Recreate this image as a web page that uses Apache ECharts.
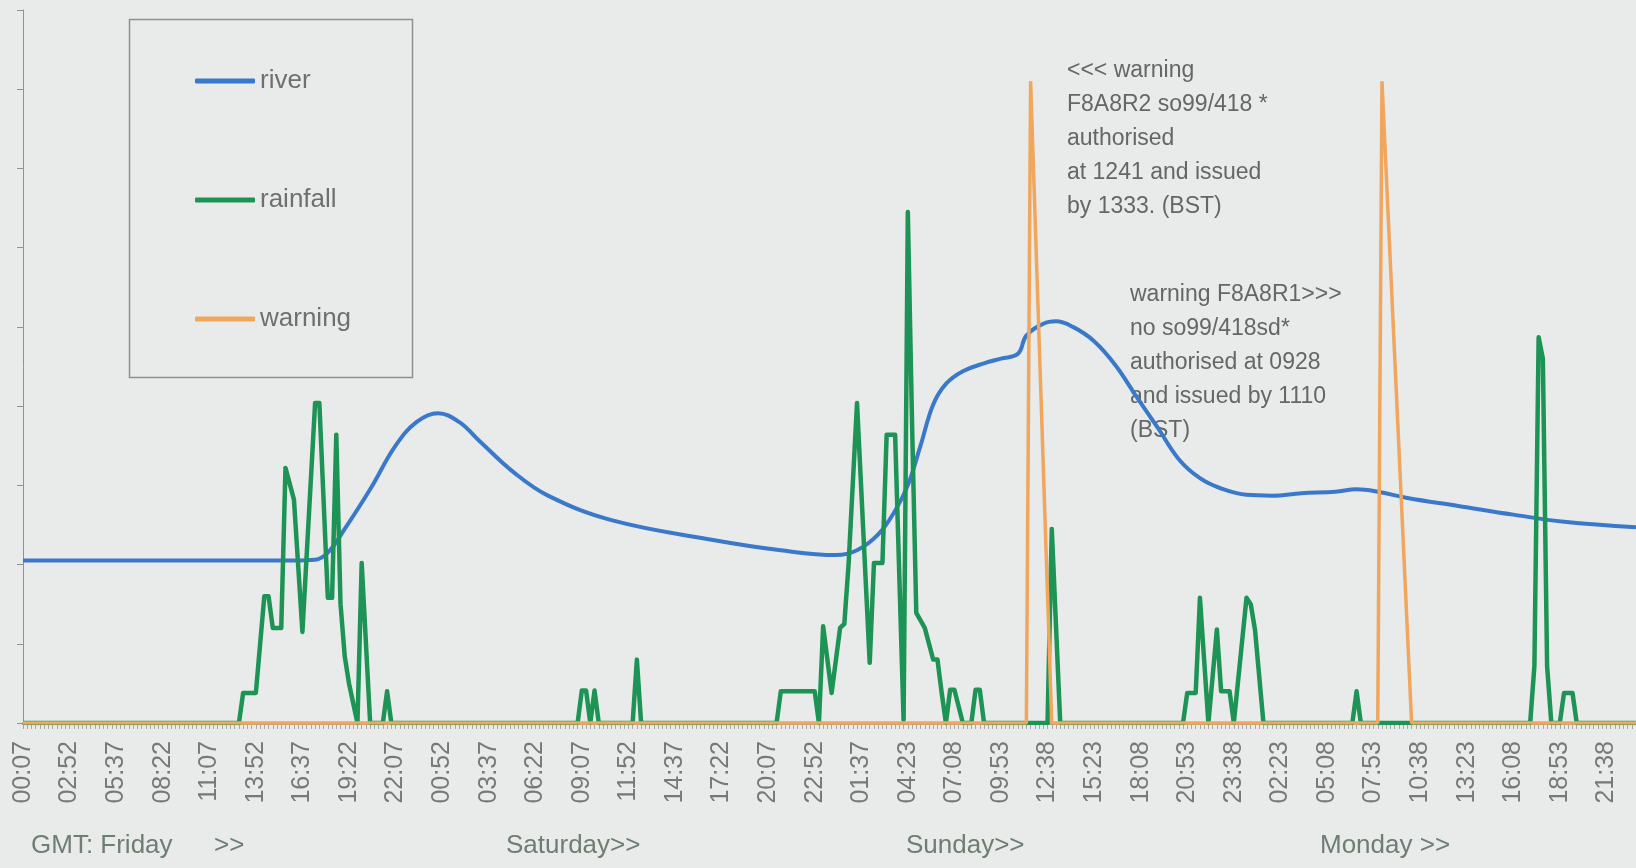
<!DOCTYPE html>
<html><head><meta charset="utf-8">
<script src="https://cdn.jsdelivr.net/npm/echarts@6/dist/echarts.min.js"></script>
<style>html,body{margin:0;padding:0;background:#e9ebea;}#chart{width:1636px;height:868px;}</style>
</head><body><div id="chart"></div>
<script>
// x-axis tick labels (one every 11 readings of 15 minutes)
const tickLabels = ["00:07","02:52","05:37","08:22","11:07","13:52","16:37","19:22","22:07","00:52","03:37","06:22","09:07","11:52","14:37","17:22","20:07","22:52","01:37","04:23","07:08","09:53","12:38","15:23","18:08","20:53","23:38","02:23","05:08","07:53","10:38","13:23","16:08","18:53","21:38"];
const slotsPerTick = 11;
const slotMinutes = 15;
const totalSlots = 382;
const seriesNames = ["river", "rainfall", "warning"];
const dayLabels = ["GMT: Friday", ">>", "Saturday>>", "Sunday>>", "Monday >>"];
const note1 = ["<<< warning", "F8A8R2 so99/418 *", "authorised", "at 1241 and issued", "by 1333. (BST)"];
const note2 = ["warning F8A8R1>>>", "no so99/418sd*", "authorised at 0928", "and issued by 1110", "(BST)"];

// [slot index, value]
const riverData = [[0,2.05],[64,2.05],[69,2.06],[72,2.15],[76,2.45],[82,2.95],[88,3.5],[93,3.8],[98,3.91],[103,3.80],[108,3.55],[116,3.16],[124,2.87],[139,2.56],[163,2.31],[179,2.18],[192,2.12],[197,2.18],[202,2.38],[206,2.68],[209,3.0],[212,3.5],[215,4.02],[218,4.28],[222,4.44],[227,4.54],[231,4.6],[235,4.66],[237,4.89],[241,5.04],[244,5.07],[248,5.0],[253,4.82],[258,4.52],[263,4.12],[268,3.73],[273,3.33],[278,3.09],[283,2.96],[289,2.88],[295,2.87],[302,2.90],[310,2.92],[315,2.95],[320,2.92],[327,2.84],[339,2.74],[352,2.63],[364,2.54],[381,2.47]];
const rainfallData = [[0,0],[51,0],[52,0.38],[55,0.38],[57,1.6],[58,1.6],[59,1.2],[61,1.2],[62,3.22],[64,2.82],[66,1.15],[69,4.04],[70,4.04],[72,1.58],[73,1.58],[74,3.64],[75,1.5],[76,0.84],[77,0.5],[78,0.25],[79,0],[80,2.02],[82,0],[85,0],[86,0.4],[87,0],[131,0],[132,0.41],[133,0.41],[134,0],[135,0.41],[136,0],[144,0],[145,0.8],[146,0],[178,0],[179,0.4],[187,0.4],[188,0],[189,1.22],[191,0.38],[193,1.2],[194,1.25],[195,2.0],[197,4.04],[200,0.76],[201,2.02],[203,2.02],[204,3.64],[206,3.64],[208,0.04],[209,6.45],[210,3.78],[211,1.39],[213,1.2],[215,0.8],[216,0.8],[217,0.38],[218,0],[219,0.42],[220,0.42],[222,0],[224,0],[225,0.42],[226,0.42],[227,0],[242,0],[243,2.45],[245,0],[274,0],[275,0.38],[277,0.38],[278,1.58],[280,0],[282,1.18],[283,0.4],[285,0.4],[286,0],[289,1.58],[290,1.5],[291,1.18],[293,0],[314,0],[315,0.4],[316,0],[356,0],[357,0.72],[358,4.87],[359,4.6],[360,0.72],[361,0],[363,0],[364,0.38],[366,0.38],[367,0],[381,0]];
const warningData = [[0,0],[237,0],[238,8.1],[243,0],[320,0],[321,8.1],[328,0],[381,0]];

// category names: reading times
const categories = [];
let day = 0, prev = -1;
for (let i = 0; i < totalSlots; i++) {
  const ti = Math.min(Math.floor(i / slotsPerTick), tickLabels.length - 1);
  const t = tickLabels[ti];
  const base = parseInt(t.slice(0,2)) * 60 + parseInt(t.slice(3,5));
  const m = (base + (i - ti * slotsPerTick) * slotMinutes) % 1440;
  if (m < prev) day++;
  prev = m;
  categories.push('d' + day + ' ' + String(Math.floor(m/60)).padStart(2,'0') + ':' + String(m%60).padStart(2,'0'));
}

const FONT = '"Liberation Sans", Arial, sans-serif';
const chart = echarts.init(document.getElementById('chart'), null, {renderer: 'canvas'});
chart.setOption({
  backgroundColor: '#e9ebea',
  animation: false,
  grid: {left: 23, right: 0, top: 10, bottom: 145, containLabel: false},
  legend: {
    orient: 'vertical', left: 190, top: 61, itemWidth: 60, itemHeight: 5, itemGap: 89,
    icon: 'roundRect', data: seriesNames,
    textStyle: {fontSize: 26, color: '#6c716f', fontFamily: FONT, lineHeight: 30}
  },
  xAxis: {
    type: 'category', data: categories, boundaryGap: false,
    axisLine: {show: true, lineStyle: {color: '#a89f86', width: 3}},
    axisTick: {show: true, interval: 0, length: 6, lineStyle: {color: '#a3a7a5', width: 1}},
    axisLabel: {
      interval: slotsPerTick - 1, rotate: 90, margin: 18, fontSize: 25, color: '#757a78', fontFamily: FONT,
      formatter: (v, idx) => tickLabels[Math.round(idx / slotsPerTick)] || ''
    },
    splitLine: {show: false}
  },
  yAxis: {
    type: 'value', min: 0, max: 9, interval: 1,
    axisLine: {show: true, lineStyle: {color: '#8e9391', width: 1}},
    axisTick: {show: true, length: 6, lineStyle: {color: '#8e9391'}},
    axisLabel: {show: false}, splitLine: {show: false}
  },
  series: [
    {name: 'river', type: 'line', data: riverData, smooth: 0.4, showSymbol: false, symbol: 'none', z: 2,
     color: '#3a79c9', lineStyle: {width: 4, color: '#3a79c9'}},
    {name: 'rainfall', type: 'line', data: rainfallData, showSymbol: false, symbol: 'none', z: 3,
     color: '#1d9455', lineStyle: {width: 4.5, color: '#1d9455', join: 'round'}},
    {name: 'warning', type: 'line', data: warningData, showSymbol: false, symbol: 'none', z: 4,
     color: '#f0a65c', lineStyle: {width: 3.5, color: '#f0a65c'}}
  ],
  graphic: [
    {type: 'rect', left: 127, top: 17, z: 0, shape: {width: 283, height: 358},
     style: {fill: 'none', stroke: '#8c9190', lineWidth: 1.5}},
    {type: 'text', left: 1067, top: 54, z: 0, style: {text: note1.join('\n'), font: '23px ' + FONT, fill: '#636766', lineHeight: 34}},
    {type: 'text', left: 1130, top: 278, z: 0, style: {text: note2.join('\n'), font: '23px ' + FONT, fill: '#636766', lineHeight: 34}},
    {type: 'text', left: 31, top: 833, z: 0, style: {text: dayLabels[0], font: '26px ' + FONT, fill: '#6d7e72'}},
    {type: 'text', left: 214, top: 833, z: 0, style: {text: dayLabels[1], font: '26px ' + FONT, fill: '#6d7e72'}},
    {type: 'text', left: 506, top: 833, z: 0, style: {text: dayLabels[2], font: '26px ' + FONT, fill: '#6d7e72'}},
    {type: 'text', left: 906, top: 833, z: 0, style: {text: dayLabels[3], font: '26px ' + FONT, fill: '#6d7e72'}},
    {type: 'text', left: 1320, top: 833, z: 0, style: {text: dayLabels[4], font: '26px ' + FONT, fill: '#6d7e72'}}
  ]
});
</script></body></html>
